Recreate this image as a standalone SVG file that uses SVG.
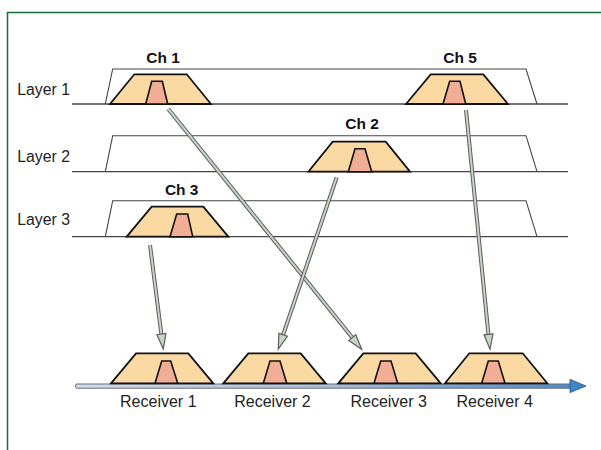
<svg xmlns="http://www.w3.org/2000/svg" width="601" height="450" viewBox="0 0 601 450">
<defs>
<linearGradient id="axisGrad" x1="0" y1="0" x2="1" y2="0">
<stop offset="0" stop-color="#d4dcea"/>
<stop offset="0.5" stop-color="#a9c0de"/>
<stop offset="1" stop-color="#4d8ccb"/>
</linearGradient>
</defs>
<style>
.frame{fill:none;stroke:#1b6e3c;stroke-width:1.5}
.base{fill:none;stroke:#444;stroke-width:1.3}
.env{fill:none;stroke:#444;stroke-width:1.1}
.ch{fill:#fad9a2;stroke:#111;stroke-width:1.8;stroke-linejoin:miter}
.inner{fill:#f1ae94;stroke:#111;stroke-width:1.6}
.lbl{font-family:"Liberation Sans",Arial,sans-serif;font-size:15.8px;fill:#222}
.chl{font-family:"Liberation Sans",Arial,sans-serif;font-size:15.5px;font-weight:bold;fill:#111;text-anchor:middle}
.rl{font-family:"Liberation Sans",Arial,sans-serif;font-size:16px;fill:#222;text-anchor:middle}
.shaftO{fill:none;stroke:#5a5f5a;stroke-width:4}
.shaftI{fill:none;stroke:#c6d6c6;stroke-width:2}
.head{fill:#c6d6c6;stroke:#5a5f5a;stroke-width:1.2;stroke-linejoin:miter}
</style>
<rect width="601" height="450" fill="#fff"/>
<path class="frame" d="M7.5,450 V12.5 H601"/>

<g id="layer1">
<line class="base" x1="72" y1="104" x2="568" y2="104"/>
<path class="env" d="M105.3,104 L112.7,69 L526,69 L537,104"/>
<text class="lbl" x="17.3" y="95">Layer 1</text>
</g>
<g id="layer2">
<line class="base" x1="72" y1="171.7" x2="568" y2="171.7"/>
<path class="env" d="M105.3,171.7 L112.7,135.7 L526,135.7 L537,171.7"/>
<text class="lbl" x="17.3" y="162">Layer 2</text>
</g>
<g id="layer3">
<line class="base" x1="72" y1="236.7" x2="568" y2="236.7"/>
<path class="env" d="M105.3,236.7 L112.7,200.7 L526,200.7 L537,236.7"/>
<text class="lbl" x="17.3" y="225">Layer 3</text>
</g>

<g id="ch1">
<polygon class="ch" points="110,104 134.3,74.3 186.7,74.3 211,104"/>
<polygon class="inner" points="145.7,104 151.7,81.3 162.3,81.3 167.7,104"/>
<text class="chl" x="163" y="62.5">Ch 1</text>
</g>
<g id="ch5">
<polygon class="ch" points="406,104 430.7,74.3 483.3,74.3 508,104"/>
<polygon class="inner" points="443,104 449.7,81.3 460,81.3 465.7,104"/>
<text class="chl" x="460" y="62.5">Ch 5</text>
</g>
<g id="ch2">
<polygon class="ch" points="308.3,171.7 332.7,141.7 385.7,141.7 410,171.7"/>
<polygon class="inner" points="348.3,171.7 355,148.7 365,148.7 371.7,171.7"/>
<text class="chl" x="362" y="129">Ch 2</text>
</g>
<g id="ch3">
<polygon class="ch" points="126.7,236.7 151.7,206.7 203.3,206.7 228.3,236.7"/>
<polygon class="inner" points="170,236.7 176.7,214 187.7,214 192.7,236.7"/>
<text class="chl" x="181.7" y="195">Ch 3</text>
</g>

<g id="axis">
<rect x="75.7" y="384" width="496" height="4.2" rx="1" fill="url(#axisGrad)" stroke="#6a6f78" stroke-width="1"/>
<polygon points="570,379.3 586,386.1 570,392.6" fill="#3f86c8" stroke="#2d4f7a" stroke-width="0.8"/>
</g>

<g id="receiver1">
<polygon class="ch" points="111,383.3 136,353.3 188.3,353.3 213.3,383.3"/>
<polygon class="inner" points="155,383.3 161.7,361 170.7,361 177.7,383.3"/>
<text class="rl" x="158.3" y="406.5">Receiver 1</text>
</g>
<g id="receiver2">
<polygon class="ch" points="223.3,383.3 248.3,353.3 300.7,353.3 325.7,383.3"/>
<polygon class="inner" points="263.3,383.3 270,361 280,361 286.7,383.3"/>
<text class="rl" x="272.5" y="406.5">Receiver 2</text>
</g>
<g id="receiver3">
<polygon class="ch" points="338.3,383.3 363.3,353.3 415.7,353.3 440.7,383.3"/>
<polygon class="inner" points="374,383.3 380.7,361 391,361 397.7,383.3"/>
<text class="rl" x="388.7" y="406.5">Receiver 3</text>
</g>
<g id="receiver4">
<polygon class="ch" points="445,383.3 469.3,353.3 522.7,353.3 547.3,383.3"/>
<polygon class="inner" points="481.7,383.3 488.3,361 498.3,361 505,383.3"/>
<text class="rl" x="494.7" y="406.5">Receiver 4</text>
</g>

<g id="connectors">
<path class="shaftO" d="M168.3,109 L352.8,338.2"/>
<path class="shaftI" d="M168.3,109 L352.8,338.2"/>
<polygon class="head" points="348.8,340.4 361.7,349.3 355.8,334.8"/>

<path class="shaftO" d="M466,110 L488.5,335"/>
<path class="shaftI" d="M466,110 L488.5,335"/>
<polygon class="head" points="484,334.85 490,349.3 493,333.95"/>

<path class="shaftO" d="M336.7,177.3 L283,335.2"/>
<path class="shaftI" d="M336.7,177.3 L283,335.2"/>
<polygon class="head" points="278.9,333.35 278.3,349 287.4,336.25"/>

<path class="shaftO" d="M150,245 L161.4,334.6"/>
<path class="shaftI" d="M150,245 L161.4,334.6"/>
<polygon class="head" points="156.9,334.7 163.3,349 165.9,333.5"/>
</g>
</svg>
